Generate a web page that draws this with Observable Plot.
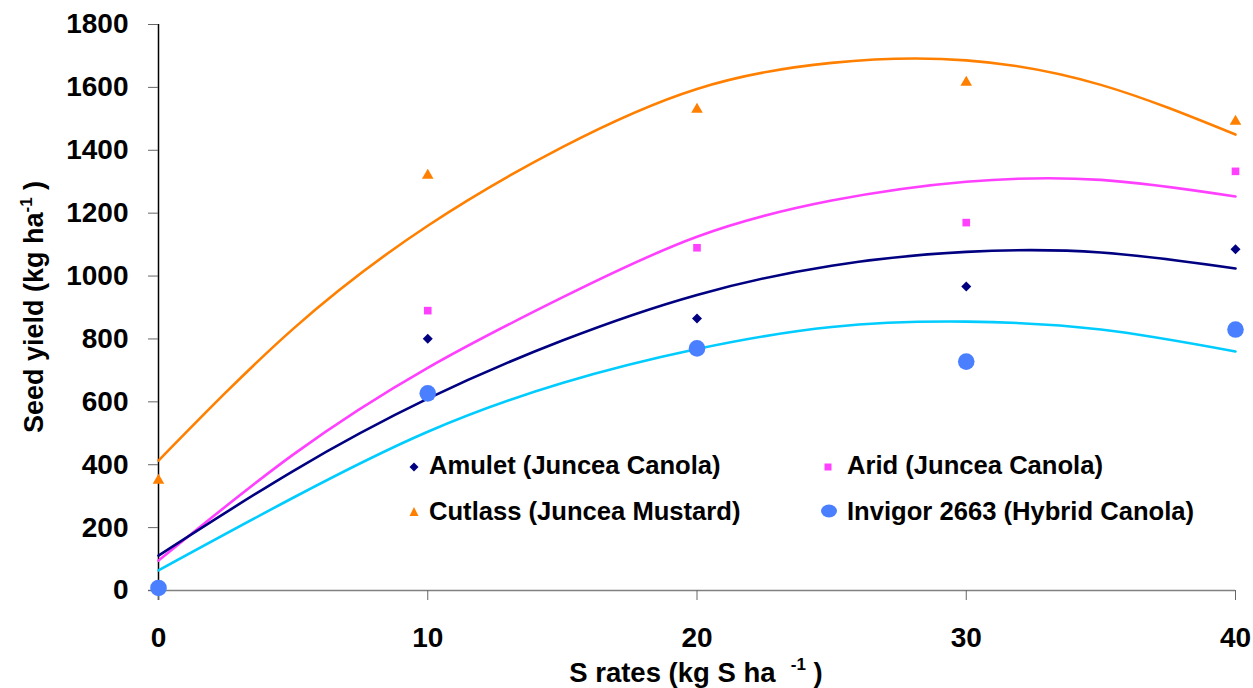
<!DOCTYPE html>
<html><head><meta charset="utf-8">
<script src="https://cdn.jsdelivr.net/npm/d3@7"></script>
<script src="https://cdn.jsdelivr.net/npm/@observablehq/plot@0.6"></script>
<style>
body{margin:0;background:#fff;}
#wrap{position:relative;width:1253px;height:688px;font-family:Arial,"Liberation Sans",sans-serif;font-weight:bold;color:#000;}
.lt{position:absolute;font-size:25.6px;line-height:1;white-space:nowrap;}
.lm{position:absolute;overflow:visible;}
</style></head><body><div id="wrap"></div>
<script>
// Observed points
const rates = [0, 10, 20, 30, 40];
const amulet = [15, 801, 865, 967, 1085];
const arid = [10, 890, 1090, 1170, 1333];
const cutlass = [350, 1320, 1530, 1616, 1492];
const invigor = [8, 627, 770, 728, 830];
// Trend curves
const fitRates = [0, 5, 10, 15, 20, 25, 30, 35, 40];
const amuletFit = [111, 380, 610, 795, 940, 1033, 1077, 1075, 1024];
const aridFit = [95, 432, 708, 932, 1125, 1240, 1300, 1306, 1253];
const cutlassFit = [413, 832, 1160, 1410, 1595, 1678, 1686, 1608, 1450];
const invigorFit = [64, 295, 505, 660, 768, 838, 855, 830, 760];
const xTicks = [0, 10, 20, 30, 40];
const yTicks = [0, 200, 400, 600, 800, 1000, 1200, 1400, 1600, 1800];
const seriesNames = ["Amulet (Juncea Canola)", "Arid (Juncea Canola)", "Cutlass (Juncea Mustard)", "Invigor 2663 (Hybrid Canola)"];

const colors = {amulet:"#000080", arid:"#ff40ff", cutlass:"#ff8000", invigor:"#4a80ff", invigorLine:"#00ccff"};

const pts = (ys) => rates.map((x, i) => ({x, y: ys[i]}));
const fit = (ys) => fitRates.map((x, i) => ({x, y: ys[i]}));

const plot = Plot.plot({
  width: 1253, height: 688,
  marginLeft: 158, marginRight: 18, marginTop: 24, marginBottom: 98,
  style: {fontFamily: 'Arial, "Liberation Sans", sans-serif', fontSize: "28px", fontWeight: "bold", background: "#fff", color: "#000", overflow: "visible"},
  x: {domain: [0, 40]},
  y: {domain: [0, 1800]},
  marks: [
    Plot.ruleY([0], {stroke: "#808080", strokeWidth: 1.5, insetLeft: -10}),
    Plot.ruleX([0], {stroke: "#000", strokeWidth: 1.5, insetBottom: -10}),
    Plot.axisY({ticks: yTicks, tickFormat: d => String(d), tickSize: 10, tickPadding: 20, label: null, stroke: "#666"}),
    Plot.axisX({ticks: xTicks, tickFormat: d => String(d), tickSize: 10, tickPadding: 27, label: null, stroke: "#666"}),
    Plot.line(fit(cutlassFit), {x: "x", y: "y", stroke: colors.cutlass, strokeWidth: 2.6, curve: "natural"}),
    Plot.line(fit(aridFit), {x: "x", y: "y", stroke: colors.arid, strokeWidth: 2.6, curve: "natural"}),
    Plot.line(fit(amuletFit), {x: "x", y: "y", stroke: colors.amulet, strokeWidth: 2.6, curve: "natural"}),
    Plot.line(fit(invigorFit), {x: "x", y: "y", stroke: colors.invigorLine, strokeWidth: 2.6, curve: "natural"}),
    Plot.dot(pts(amulet), {x: "x", y: "y", symbol: "diamond2", r: 4.5, fill: colors.amulet, stroke: null}),
    Plot.dot(pts(arid), {x: "x", y: "y", symbol: "square", r: 4.3, fill: colors.arid, stroke: null}),
    Plot.dot(pts(cutlass), {x: "x", y: "y", symbol: "triangle", r: 4.3, fill: colors.cutlass, stroke: null}),
    Plot.dot(pts(invigor), {x: "x", y: "y", symbol: "circle", r: 8.3, fill: colors.invigor, stroke: null})
  ]
});
const wrap = document.getElementById("wrap");
wrap.appendChild(plot);

// Axis titles with superscripts
const svg = d3.select(plot);
const ff = 'Arial, "Liberation Sans", sans-serif';
const yt = svg.append("text")
  .attr("transform", "translate(43,307) rotate(-90)")
  .attr("text-anchor", "middle")
  .attr("font-family", ff).attr("font-size", 27).attr("font-weight", "bold").attr("fill", "#000");
yt.append("tspan").text("Seed yield (kg ha");
yt.append("tspan").attr("font-size", 17).attr("dy", -11).text("-1");
yt.append("tspan").attr("dy", 11).text(" )");

const xt = svg.append("text")
  .attr("x", 696).attr("y", 682)
  .attr("text-anchor", "middle")
  .attr("font-family", ff).attr("font-size", 27.5).attr("font-weight", "bold").attr("fill", "#000");
xt.append("tspan").text("S rates (kg S ha\u00a0\u00a0");
xt.append("tspan").attr("font-size", 17).attr("dy", -12).text("-1");
xt.append("tspan").attr("dy", 12).text(" )");

// Legend
const legend = [
  {name: seriesNames[0], sym: "diamond", color: colors.amulet, mx: 414, my: 467, tx: 429, ty: 453},
  {name: seriesNames[1], sym: "square", color: colors.arid, mx: 828, my: 467, tx: 847, ty: 453},
  {name: seriesNames[2], sym: "triangle", color: colors.cutlass, mx: 414, my: 512, tx: 429, ty: 499},
  {name: seriesNames[3], sym: "circle", color: colors.invigor, mx: 829, my: 511, tx: 847, ty: 499}
];
for (const l of legend) {
  const s = document.createElementNS("http://www.w3.org/2000/svg", "svg");
  s.setAttribute("class", "lm");
  s.setAttribute("width", 20); s.setAttribute("height", 20);
  s.style.left = (l.mx - 10) + "px"; s.style.top = (l.my - 10) + "px";
  let shape;
  if (l.sym === "diamond") shape = `<polygon points="10,5.5 14.5,10 10,14.5 5.5,10" fill="${l.color}"/>`;
  else if (l.sym === "square") shape = `<rect x="6.5" y="6.5" width="7" height="7" fill="${l.color}"/>`;
  else if (l.sym === "triangle") shape = `<polygon points="10,5 14.5,14 5.5,14" fill="${l.color}"/>`;
  else shape = `<ellipse cx="10" cy="10" rx="8" ry="6.5" fill="${l.color}"/>`;
  s.innerHTML = shape;
  wrap.appendChild(s);
  const t = document.createElement("div");
  t.className = "lt";
  t.style.left = l.tx + "px"; t.style.top = l.ty + "px";
  t.textContent = l.name;
  wrap.appendChild(t);
}
</script></body></html>
